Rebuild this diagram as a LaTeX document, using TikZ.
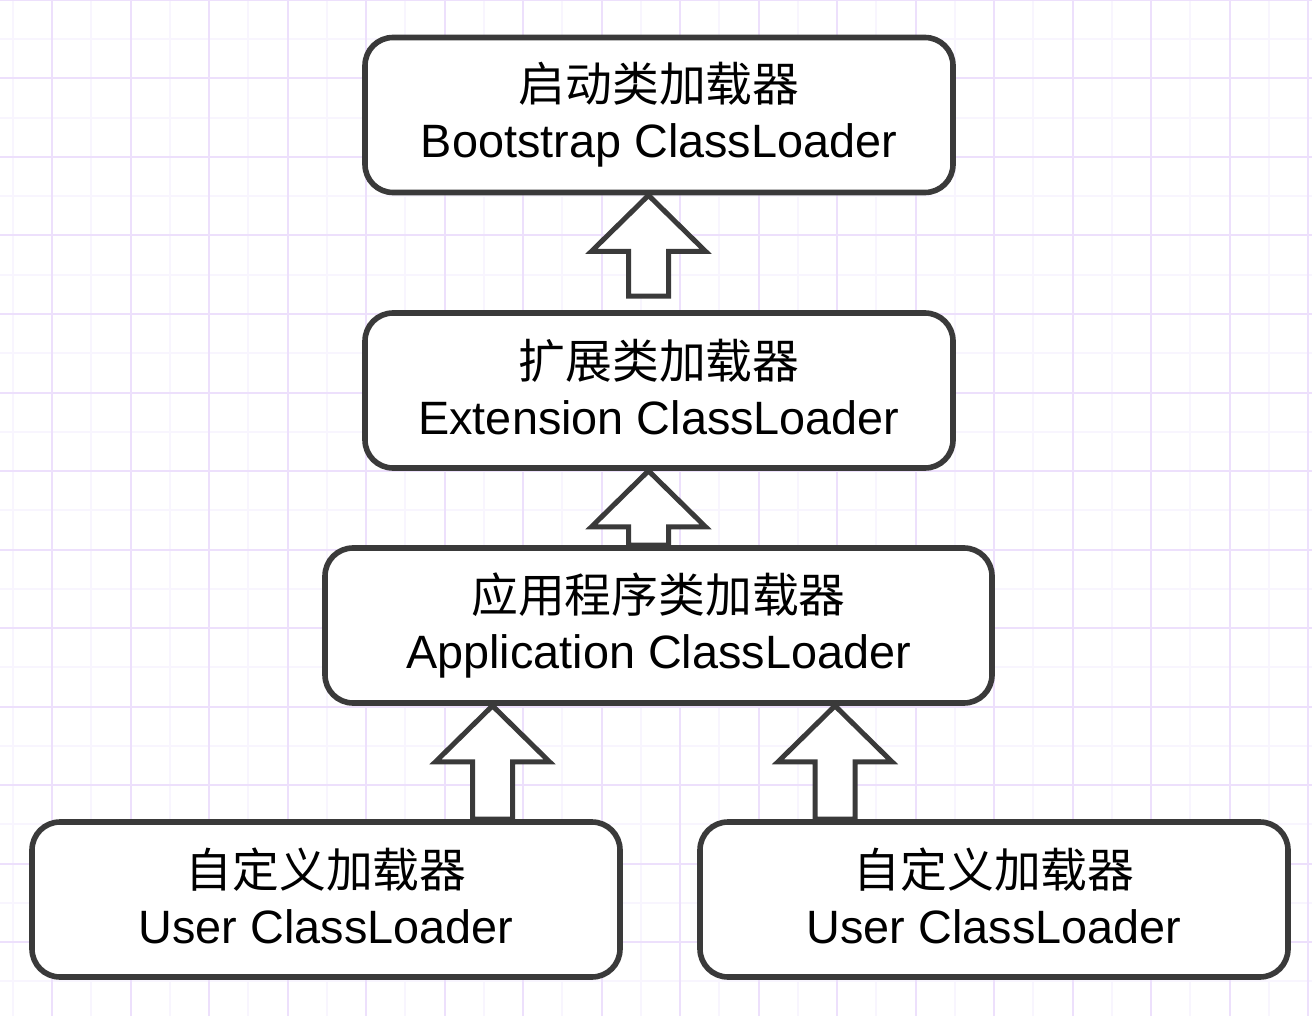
\documentclass[tikz,border=0pt]{standalone}
\usepackage{fontspec}
\setmainfont{Liberation Sans}
\newfontfamily\cjk{Noto Sans CJK SC}
\usetikzlibrary{calc}

\definecolor{gridmajor}{RGB}{237,224,252}
\definecolor{gridminor}{RGB}{248,245,254}
\definecolor{edge}{RGB}{58,58,58}

\tikzset{
  loader/.style={draw=edge, line width=2.8pt, rounded corners=14pt, fill=white,
    align=center, minimum height=77.5pt, inner sep=0pt,
    font=\fontsize{23.4}{28}\selectfont,
    execute at begin node={\rule{0pt}{25pt}},
    execute at end node={\rule[-3.5pt]{0pt}{3.5pt}}},
  hollow/.style={draw=edge, line width=2.5pt, fill=white, line join=miter},
}

% x position, lower box, upper box, gap under the shaft
\newcommand\liftarrow[4]{%
  \draw[hollow] let \p1=(#1,0), \p2=(#2.north), \p3=(#3.south) in
    (\x1,\y3) -- (\x1+28.5pt,\y3-28pt) -- (\x1+10pt,\y3-28pt)
    -- (\x1+10pt,\y2+#4) -- (\x1-10pt,\y2+#4)
    -- (\x1-10pt,\y3-28pt) -- (\x1-28.5pt,\y3-28pt) -- cycle;}

\begin{document}
\begin{tikzpicture}[x=0.5pt, y=-0.5pt]
\useasboundingbox (0,0) rectangle (1312,1016);

\foreach \x in {12.75,91.25,...,1312}
  \draw[gridminor, line width=1pt] (\x,0) -- (\x,1016);
\foreach \y in {39.25,117.75,...,1016}
  \draw[gridminor, line width=1pt] (0,\y) -- (1312,\y);
\foreach \x in {52,130.5,...,1312}
  \draw[gridmajor, line width=1pt] (\x,0) -- (\x,1016);
\foreach \y in {0,78.5,...,1016}
  \draw[gridmajor, line width=1pt] (0,\y) -- (1312,\y);


\node[loader, minimum width=294pt] (boot) at (659,115)
  {{\cjk 启动类加载器}\\Bootstrap ClassLoader};
\node[loader, minimum width=294pt] (ext) at (659,390.5)
  {{\cjk 扩展类加载器}\\Extension ClassLoader};
\node[loader, minimum width=333.5pt] (app) at (658.5,625.5)
  {{\cjk 应用程序类加载器}\\Application ClassLoader};
\node[loader, minimum width=294pt] (userA) at (326,899.5)
  {{\cjk 自定义加载器}\\User ClassLoader};
\node[loader, minimum width=294pt] (userB) at (994,899.5)
  {{\cjk 自定义加载器}\\User ClassLoader};

\liftarrow{648.5}{ext}{boot}{7pt}
\liftarrow{648.5}{app}{ext}{0pt}
\liftarrow{492.5}{userA}{app}{0pt}
\liftarrow{835}{userB}{app}{0pt}
\end{tikzpicture}
\end{document}
